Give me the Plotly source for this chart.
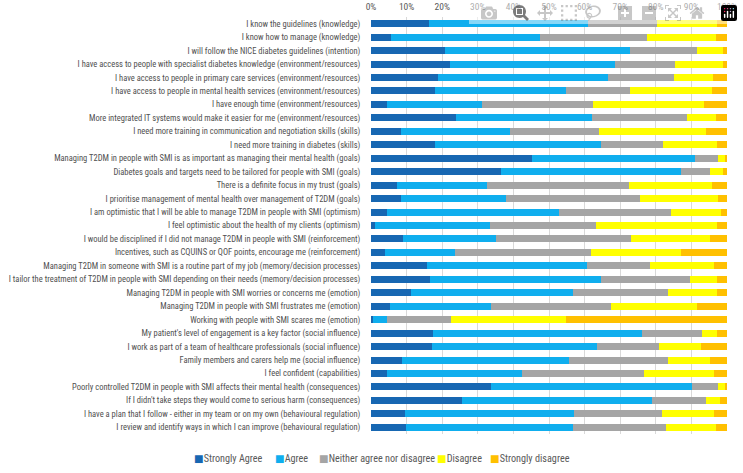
import plotly.graph_objects as go

categories = [
    "I know the guidelines (knowledge)",
    "I know how to manage (knowledge)",
    "I will follow the NICE diabetes guidelines (intention)",
    "I have access to people with specialist diabetes knowledge (environment/resources)",
    "I have access to people in primary care services (environment/resources)",
    "I have access to people in mental health services (environment/resources)",
    "I have enough time (environment/resources)",
    "More integrated IT systems would make it easier for me (environment/resources)",
    "I need more training in communication and negotiation skills (skills)",
    "I need more training in diabetes (skills)",
    "Managing T2DM in people with SMI is as important as managing their mental health (goals)",
    "Diabetes goals and targets need to be tailored for people with SMI (goals)",
    "There is a definite focus in my trust (goals)",
    "I prioritise management of mental health over management of T2DM (goals)",
    "I am optimistic that I will be able to manage T2DM in people with SMI (optimism)",
    "I feel optimistic about the health of my clients (optimism)",
    "I would be disciplined if I did not manage T2DM in people with SMI (reinforcement)",
    "Incentives, such as CQUINS or QOF points, encourage me (reinforcement)",
    "Managing T2DM in someone with SMI is a routine part of my job (memory/decision processes)",
    "I tailor the treatment of T2DM in people with SMI depending on their needs (memory/decision processes)",
    "Managing T2DM in people with SMI worries or concerns me (emotion)",
    "Managing T2DM in people with SMI frustrates me (emotion)",
    "Working with people with SMI scares me (emotion)",
    "My patient's level of engagement is a key factor (social influence)",
    "I work as part of a team of healthcare professionals (social influence)",
    "Family members and carers help me (social influence)",
    "I feel confident (capabilities)",
    "Poorly controlled T2DM in people with SMI affects their mental health (consequences)",
    "If I didn't take steps they would come to serious harm (consequences)",
    "I have a plan that I follow - either in my team or on my own (behavioural regulation)",
    "I review and identify ways in which I can improve (behavioural regulation)",
]

strongly_agree = [16.4, 5.7, 20.8, 22.1, 18.8, 17.9, 4.4, 24.0, 8.4, 18.1, 45.3, 36.4, 7.3, 8.4, 4.4, 1.2,
                  9.1, 3.9, 15.7, 16.7, 11.3, 5.3, 0.5, 17.5, 17.1, 8.7, 4.4, 33.7, 25.7, 9.5, 9.9]
agree = [44.6, 41.8, 52.0, 46.3, 47.9, 36.9, 26.7, 38.1, 30.7, 46.6, 45.8, 50.7, 25.4, 29.6, 48.3, 32.1,
         26.0, 19.6, 45.1, 48.0, 45.4, 28.4, 3.9, 58.5, 46.4, 46.8, 38.0, 56.4, 53.1, 47.6, 46.8]
neither = [19.4, 30.0, 18.9, 17.1, 18.3, 17.9, 31.3, 26.7, 24.9, 17.4, 6.4, 8.2, 39.7, 37.7, 31.7, 30.0,
           38.0, 38.2, 17.6, 25.0, 26.8, 33.8, 18.1, 17.1, 17.3, 28.0, 34.3, 7.4, 15.3, 24.6, 26.1]
disagree = [16.9, 19.5, 7.3, 13.3, 11.1, 23.0, 31.1, 8.0, 30.0, 15.2, 2.0, 3.5, 23.3, 21.8, 14.0, 34.0,
            22.0, 25.4, 18.0, 7.6, 13.8, 24.0, 32.2, 4.2, 12.0, 11.8, 19.7, 1.8, 4.0, 14.7, 14.0]
strongly_disagree = [2.7, 3.0, 1.0, 1.2, 3.9, 4.3, 6.5, 3.2, 6.0, 2.7, 0.5, 1.2, 4.3, 2.5, 1.6, 2.7,
                     4.9, 12.9, 3.6, 2.7, 2.7, 8.5, 45.3, 2.7, 7.2, 4.7, 3.6, 0.7, 1.9, 3.6, 3.2]

series_names = ["Strongly Agree", "Agree", "Neither agree nor disagree", "Disagree", "Strongly disagree"]
series_values = [strongly_agree, agree, neither, disagree, strongly_disagree]
series_colors = ["#1767B2", "#0FAEEE", "#A5A5A5", "#FFFF00", "#FFC000"]
x_ticks = [0, 10, 20, 30, 40, 50, 60, 70, 80, 90, 100]
x_tick_labels = ["0%", "10%", "20%", "30%", "40%", "50%", "60%", "70%", "80%", "90%", "100%"]

FONT = "Roboto Condensed, Liberation Sans Narrow, Roboto, sans-serif"
FIG_W, FIG_H = 743, 473
PLOT_L, PLOT_R, PLOT_T, PLOT_B = 371, 727, 17, 434
legend_x_px = [192, 273, 317, 435, 488]  # left edge of each legend key (px)

fig = go.Figure()
for name, vals, col in zip(series_names, series_values, series_colors):
    fig.add_trace(go.Bar(
        y=categories, x=vals, name=name, orientation="h",
        marker=dict(color=col, line=dict(width=0)),
    ))

# compact Excel-style legend below the plot
for name, col, px in zip(series_names, series_colors, legend_x_px):
    fig.add_annotation(
        xref="paper", yref="paper",
        x=(px - PLOT_L) / (PLOT_R - PLOT_L), y=-24 / (PLOT_B - PLOT_T),
        xanchor="left", yanchor="middle", showarrow=False,
        text=f'<span style="color:{col};font-family:DejaVu Sans">■</span>{name}',
        font=dict(size=10.2, color="#595959", family=FONT),
    )

fig.update_layout(
    width=FIG_W, height=FIG_H,
    barmode="stack", bargap=0.48,
    paper_bgcolor="white", plot_bgcolor="white",
    margin=dict(l=PLOT_L, r=FIG_W - PLOT_R, t=PLOT_T, b=FIG_H - PLOT_B, autoexpand=False),
    font=dict(family=FONT, color="#595959"),
    showlegend=False,
    xaxis=dict(
        side="top", range=[0, 100], tickvals=x_ticks, ticktext=x_tick_labels,
        showgrid=True, gridcolor="#D9D9D9", gridwidth=1, zeroline=False,
        showline=False, ticks="outside", ticklen=2, tickcolor="rgba(0,0,0,0)",
        tickfont=dict(size=9.5, color="#595959"), fixedrange=True,
    ),
    yaxis=dict(
        categoryorder="array", categoryarray=categories,
        range=[len(categories) - 0.5, -0.5],
        showgrid=False, showline=False, ticks="outside", ticklen=8, tickcolor="rgba(0,0,0,0)",
        tickfont=dict(size=8.5, color="#505050"), automargin=False,
    ),
)

# remove the browser's default 8px body margin so the figure fills the window exactly
fig.write_html("out.html", post_script=["document.body.style.margin='0';"])
